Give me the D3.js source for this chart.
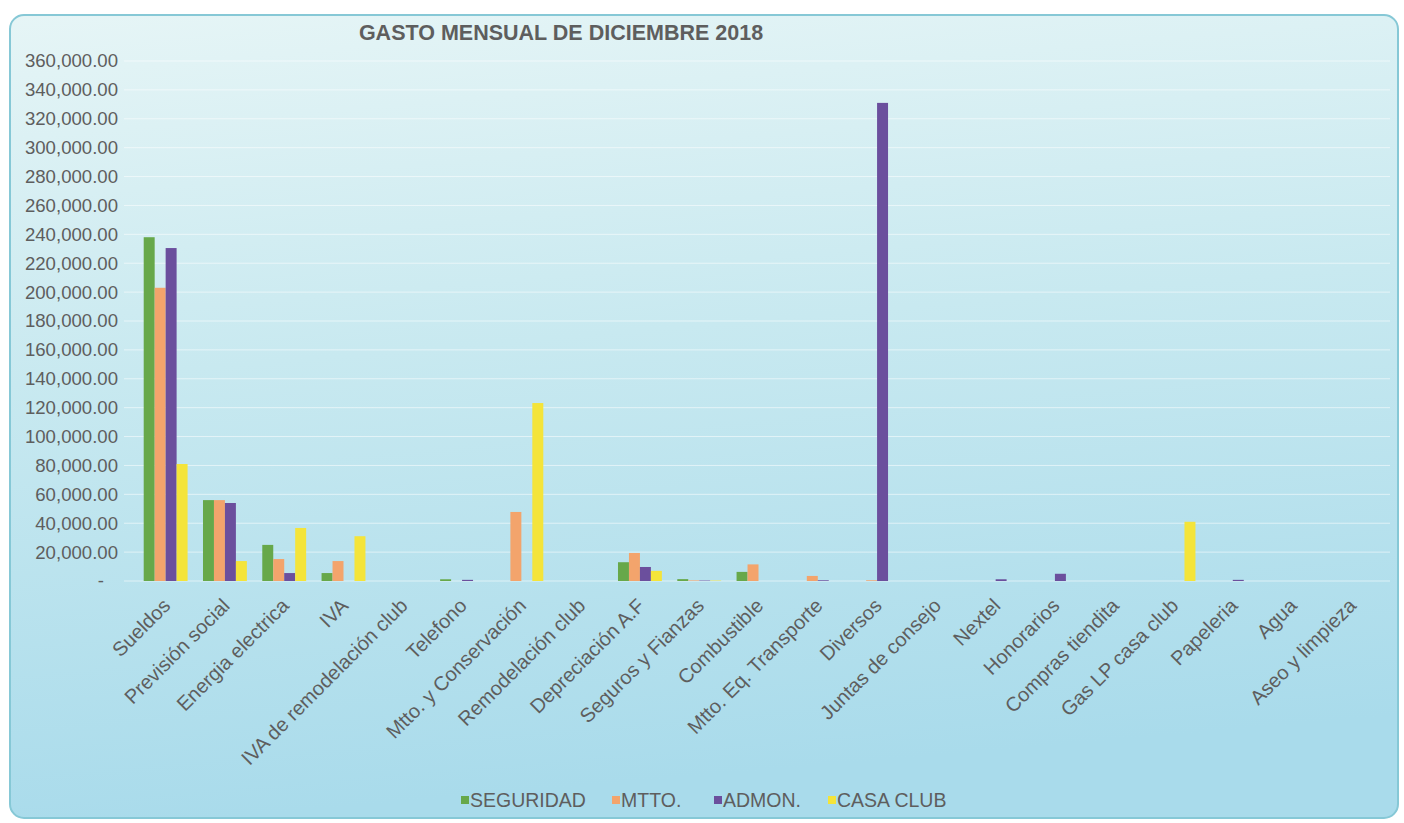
<!DOCTYPE html>
<html>
<head>
<meta charset="utf-8">
<script src="https://cdn.jsdelivr.net/npm/d3@7"></script>
<style>
  html, body { margin: 0; padding: 0; background: #ffffff; }
  svg { display: block; }
  text { font-family: "Liberation Sans", Arial, sans-serif; }
</style>
</head>
<body>
<svg id="chart" width="1404" height="823"></svg>
<script>
const title = "GASTO MENSUAL DE DICIEMBRE 2018";
const categories = ["Sueldos", "Previsión social", "Energia electrica", "IVA", "IVA de remodelación club",
  "Telefono", "Mtto. y Conservación", "Remodelación club", "Depreciación A.F", "Seguros y Fianzas",
  "Combustible", "Mtto. Eq. Transporte", "Diversos", "Juntas de consejo", "Nextel", "Honorarios",
  "Compras tiendita", "Gas LP casa club", "Papeleria", "Agua", "Aseo y limpieza"];
const seriesNames = ["SEGURIDAD", "MTTO.", "ADMON.", "CASA CLUB"];
const seguridad = [238000, 56000, 25000, 5500, 0, 1200, 0, 0, 13000, 1300, 6300, 0, 0, 0, 0, 0, 0, 0, 0, 0, 0];
const mtto      = [203000, 56000, 15200, 13800, 0, 0, 47800, 0, 19400, 400, 11500, 3500, 500, 0, 0, 0, 0, 0, 0, 0, 0];
const admon     = [230500, 54000, 5500, 0, 0, 800, 0, 0, 9700, 300, 0, 500, 331000, 0, 1200, 5000, 0, 0, 800, 0, 0];
const casaClub  = [81000, 13800, 36700, 31000, 0, 0, 123200, 0, 7000, 300, 0, 0, 0, 0, 0, 0, 0, 41000, 0, 0, 0];
const yTicks = [0, 20000, 40000, 60000, 80000, 100000, 120000, 140000, 160000, 180000, 200000,
  220000, 240000, 260000, 280000, 300000, 320000, 340000, 360000];
const colors = ["#67a84a", "#f3a46c", "#6b4f9d", "#f4e43a"];

const seriesValues = [seguridad, mtto, admon, casaClub];

const svg = d3.select("#chart");
const defs = svg.append("defs");
const grad = defs.append("linearGradient").attr("id", "bg")
  .attr("x1", "0").attr("y1", "0").attr("x2", "0.15").attr("y2", "1");
grad.append("stop").attr("offset", "0").attr("stop-color", "#e6f5f6");
grad.append("stop").attr("offset", "0.45").attr("stop-color", "#c8e9f0");
grad.append("stop").attr("offset", "1").attr("stop-color", "#a9dbeb");

svg.append("rect").attr("x", 10).attr("y", 15).attr("width", 1388).attr("height", 803)
  .attr("rx", 14).attr("fill", "url(#bg)").attr("stroke", "#86c8d6").attr("stroke-width", 2);

const y = d3.scaleLinear().domain([0, 360000]).range([581, 61]);
const x0 = d3.scaleBand().domain(categories).range([136, 1381]).paddingInner(0.26).paddingOuter(0.13);
const x1 = d3.scaleBand().domain(seriesNames).range([0, x0.bandwidth()]);

// gridlines
svg.append("g").selectAll("line").data(yTicks).join("line")
  .attr("x1", 124).attr("x2", 1390)
  .attr("y1", d => y(d)).attr("y2", d => y(d))
  .attr("stroke", "#ffffff").attr("stroke-opacity", 0.55).attr("stroke-width", 1);

// y axis labels
const fmt = d3.format(",.2f");
const yAxis = d3.axisLeft(y).tickValues(yTicks).tickSize(0).tickPadding(0)
  .tickFormat(d => d === 0 ? "-" : fmt(d));
const gy = svg.append("g").attr("transform", "translate(118,0)").call(yAxis);
gy.select(".domain").remove();
gy.selectAll("text").attr("font-size", 18.6).attr("fill", "#5e5e5e")
  .attr("font-family", "Liberation Sans, Arial, sans-serif")
  .attr("dx", d => d === 0 ? -14 : 0);

// bars
const rows = categories.map((c, i) => ({ cat: c, vals: seriesNames.map((s, j) => ({ s, j, v: seriesValues[j][i] })) }));
const groups = svg.append("g").selectAll("g").data(rows).join("g")
  .attr("transform", d => `translate(${x0(d.cat)},0)`);
groups.selectAll("rect").data(d => d.vals.filter(e => e.v > 0)).join("rect")
  .attr("x", d => x1(d.s)).attr("width", x1.bandwidth())
  .attr("y", d => y(d.v)).attr("height", d => y(0) - y(d.v))
  .attr("fill", d => colors[d.j]);

// x labels
const xAxis = d3.axisBottom(x0).tickSize(0).tickPadding(0);
const gx = svg.append("g").attr("transform", `translate(0,${y(0)})`).call(xAxis);
gx.select(".domain").remove();
gx.selectAll("text")
  .attr("font-size", 20).attr("fill", "#5e5e5e")
  .attr("font-family", "Liberation Sans, Arial, sans-serif")
  .attr("text-anchor", "end")
  .attr("dy", 0)
  .attr("transform", "translate(6,26) rotate(-45)");

// title
svg.append("text").attr("x", 561).attr("y", 40).attr("text-anchor", "middle")
  .attr("font-size", 21.5).attr("font-weight", "bold").attr("fill", "#5e5e5e").text(title);

// legend
const legendX = [461, 612, 714, 828];
const lg = svg.append("g").selectAll("g").data(seriesNames).join("g")
  .attr("transform", (d, i) => `translate(${legendX[i]},800)`);
lg.append("rect").attr("x", 0).attr("y", -4).attr("width", 8).attr("height", 8)
  .attr("fill", (d, i) => colors[i]);
lg.append("text").attr("x", 9).attr("y", 0).attr("dy", "0.35em")
  .attr("font-size", 19.5).attr("fill", "#5e5e5e").text(d => d);
</script>
</body>
</html>
